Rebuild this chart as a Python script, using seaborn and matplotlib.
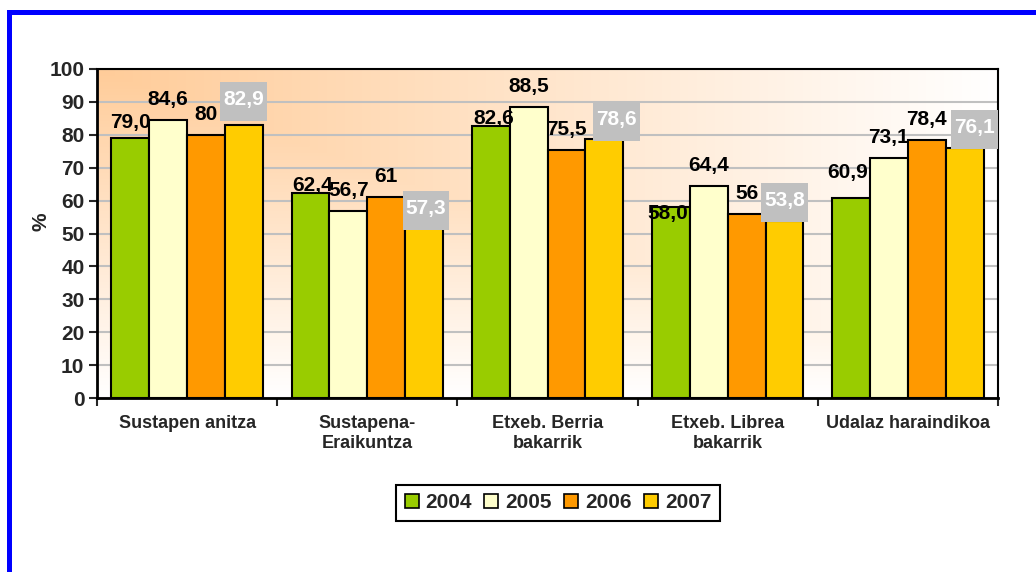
import matplotlib
matplotlib.use("Agg")
import matplotlib.pyplot as plt
import numpy as np
import pandas as pd
import seaborn as sns
from matplotlib.patches import Rectangle

# datuak
kategoriak = ["Sustapen anitza", "Sustapena-\nEraikuntza", "Etxeb. Berria\nbakarrik",
              "Etxeb. Librea\nbakarrik", "Udalaz haraindikoa"]
urteak = ["2004", "2005", "2006", "2007"]
v2004 = [79.0, 62.4, 82.6, 58.0, 60.9]
v2005 = [84.6, 56.7, 88.5, 64.4, 73.1]
v2006 = [80, 61, 75.5, 56, 78.4]
v2007 = [82.9, 57.3, 78.6, 53.8, 76.1]
et2004 = ["79,0", "62,4", "82,6", "58,0", "60,9"]
et2005 = ["84,6", "56,7", "88,5", "64,4", "73,1"]
et2006 = ["80", "61", "75,5", "56", "78,4"]
et2007 = ["82,9", "57,3", "78,6", "53,8", "76,1"]
y_ticks = list(range(0, 101, 10))

koloreak = ["#99CC00", "#FFFFCC", "#FF9900", "#FFCC00"]
etiketak = [et2004, et2005, et2006, et2007]

df = pd.DataFrame({
    "kategoria": kategoriak * 4,
    "urtea": np.repeat(urteak, len(kategoriak)),
    "balioa": v2004 + v2005 + v2006 + v2007,
})

sns.set_style("white")
plt.rcParams["font.family"] = ["Liberation Sans", "DejaVu Sans"]

W, H = 1036, 572
fig = plt.figure(figsize=(W / 100, H / 100), dpi=100)
ax = fig.add_axes([97 / W, 1 - 398 / H, (998 - 97) / W, (398 - 69) / H])

sns.barplot(data=df, x="kategoria", y="balioa", hue="urtea", palette=koloreak,
            width=0.84, saturation=1, edgecolor="black", linewidth=1.5,
            ax=ax, legend=False)

# atzealdeko gradientea (goi-ezkerreko izkinatik)
u = np.linspace(0, 1, 500)[None, :]
v = np.linspace(0, 1, 250)[:, None]
f = 1 - np.maximum(u, v)
peach = np.array([255, 204, 153]) / 255
img = 1 - f[..., None] * (1 - peach)
ax.imshow(img, extent=(0, 1, 0, 1), transform=ax.transAxes, aspect="auto",
          origin="upper", zorder=-1)

ax.set_xlim(-0.5, len(kategoriak) - 0.5)
ax.set_ylim(0, 100)
ax.set_xlabel("")
ax.set_ylabel("")

ax.set_yticks(y_ticks)
ax.yaxis.grid(True, color="#C0C0C0", lw=1.5)
ax.set_axisbelow(True)
ax.tick_params(axis="y", left=True, length=6, width=1.5, direction="out",
               labelsize=15, pad=3)
for lbl in ax.get_yticklabels():
    lbl.set_fontweight("bold")

ax.set_xticks(range(len(kategoriak)))
ax.set_xticklabels(kategoriak, fontsize=13, fontweight="bold", linespacing=1.25)
ax.set_xticks(np.arange(-0.5, len(kategoriak), 1), minor=True)
ax.tick_params(axis="x", which="major", length=0, pad=12)
ax.tick_params(axis="x", which="minor", bottom=True, length=6, width=1.5)

for s in ["left", "bottom"]:
    ax.spines[s].set_color("black")
    ax.spines[s].set_linewidth(2)
for s in ["top", "right"]:
    ax.spines[s].set_color("black")
    ax.spines[s].set_linewidth(1.5)

fig.text(41 / W, 1 - 222 / H, "%", rotation=90, ha="center", va="center",
         fontsize=15, fontweight="bold")

# balio-etiketak (pixel mugimenduak Excel-en kokapena imitatzeko)
nudge = {(0, 0): (0, 10), (3, 0): (0, 20), (0, 1): (2, 2), (3, 1): (2, -5),
         (0, 2): (3, 2), (3, 2): (12, 14), (0, 3): (-3, -12), (0, 4): (-4, 20),
         (3, 4): (10, 15)}
box_texts = []
for i, cont in enumerate(ax.containers):
    for j, bar in enumerate(cont):
        dx, dy = nudge.get((i, j), (0, 15))
        x = bar.get_x() + bar.get_width() / 2
        y = bar.get_height()
        t = ax.annotate(etiketak[i][j], (x, y), xytext=(dx, dy),
                        textcoords="offset pixels", ha="center", va="baseline",
                        fontsize=15, fontweight="bold",
                        color="white" if i == 3 else "black", zorder=4)
        if i == 3:
            box_texts.append((t, ax.transData.transform((x, y))[1] + dy))

fig.canvas.draw()
renderer = fig.canvas.get_renderer()
for t, base in box_texts:
    bb = t.get_window_extent(renderer)
    rect = Rectangle((bb.x0 - 3, base - 16), bb.width + 6, 39, transform=None,
                     facecolor="#C0C0C0", edgecolor="none", zorder=3.5)
    ax.add_patch(rect)

handles = [Rectangle((0, 0), 1, 1, facecolor=c, edgecolor="black", lw=1.2)
           for c in koloreak]
leg = fig.legend(handles, urteak, ncol=4, loc="center",
                 bbox_to_anchor=(558 / W, 1 - 503 / H), frameon=True,
                 fancybox=False, edgecolor="black", framealpha=1,
                 prop=dict(weight="bold", size=15), handlelength=0.67,
                 handleheight=0.67, handletextpad=0.33, columnspacing=0.6,
                 borderpad=0.4)
leg.get_frame().set_linewidth(1.5)

# ertz urdina
fig.add_artist(Rectangle((7 / W, 0), 5 / W, (H - 10) / H, transform=fig.transFigure,
                         facecolor="#0000FF", edgecolor="none"))
fig.add_artist(Rectangle((7 / W, 1 - 15 / H), 1, 5 / H, transform=fig.transFigure,
                         facecolor="#0000FF", edgecolor="none"))

fig.savefig("out.png", dpi=100)
